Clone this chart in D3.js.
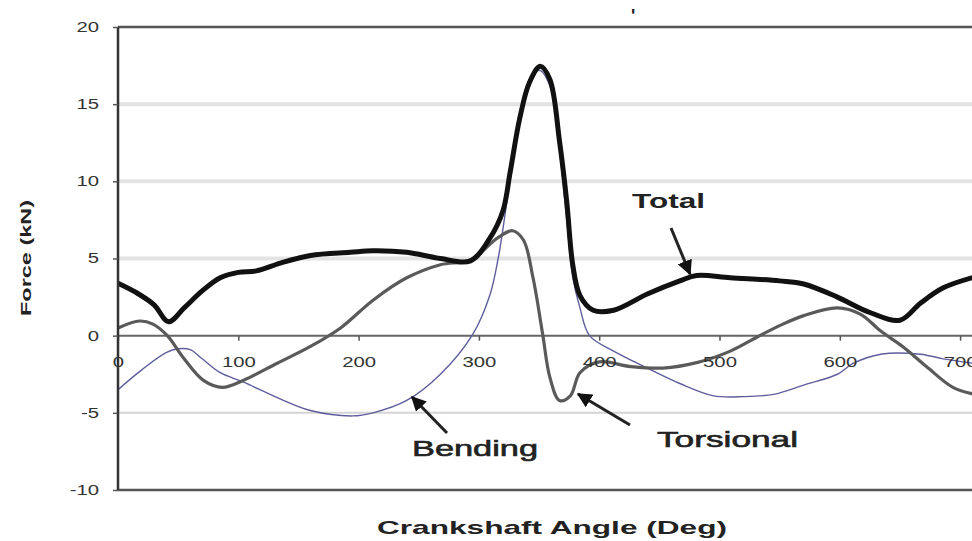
<!DOCTYPE html>
<html><head><meta charset="utf-8">
<script src="https://cdn.jsdelivr.net/npm/d3@7"></script>
<style>
html,body{margin:0;padding:0;background:#fff;}
svg{display:block;font-family:"Liberation Sans",Arial,sans-serif;}
</style></head>
<body>
<svg id="chart" width="972" height="541"></svg>
<script>
// ---------- DATA ----------
const xTicks = [0, 100, 200, 300, 400, 500, 600, 700];
const yTicks = [-10, -5, 0, 5, 10, 15, 20];

const totalAngle = [0, 15, 30, 42, 55, 70, 85, 100, 115, 135, 160, 193, 212, 240, 268, 293, 309, 320, 326, 334, 342, 351, 359, 367, 373, 378, 384, 395, 412, 440, 467, 481, 509, 550, 570, 598, 625, 650, 667, 686, 712];
const totalForce = [3.4, 2.8, 2.0, 0.9, 1.8, 2.9, 3.75, 4.1, 4.2, 4.7, 5.2, 5.4, 5.5, 5.4, 5.0, 4.85, 6.3, 8.1, 10.6, 14.1, 16.4, 17.45, 16.6, 12.6, 8.7, 4.6, 2.6, 1.65, 1.65, 2.7, 3.55, 3.9, 3.75, 3.55, 3.35, 2.5, 1.5, 1.0, 2.1, 3.1, 3.8];

const torsAngle = [0, 18, 29, 41, 54, 71, 87, 104, 132, 160, 185, 212, 240, 268, 293, 315, 328, 337, 345, 353, 359, 367, 376, 384, 400, 426, 453, 481, 509, 531, 550, 570, 598, 617, 634, 653, 672, 694, 712];
const torsForce = [0.5, 0.95, 0.75, 0, -1.4, -2.9, -3.35, -2.9, -1.8, -0.7, 0.5, 2.3, 3.75, 4.6, 4.9, 6.3, 6.8, 6.2, 3.75, 0.1, -2.7, -4.2, -3.9, -2.4, -1.7, -2.0, -2.1, -1.75, -1.0, -0.1, 0.65, 1.3, 1.8, 1.4, 0.3, -0.75, -2.0, -3.35, -3.8];

const bendAngle = [0, 20, 40, 50, 60, 70, 85, 104, 132, 160, 195, 212, 240, 268, 295, 309, 316, 322, 330, 340, 350, 359, 367, 373, 378, 384, 392, 412, 440, 467, 495, 520, 545, 570, 598, 611, 634, 667, 686, 712];
const bendForce = [-3.5, -2.2, -1.1, -0.85, -0.9, -1.5, -2.4, -3.0, -4.0, -4.85, -5.2, -5.0, -4.2, -2.5, 0.1, 2.6, 5.0, 8.0, 12.5, 16.0, 17.2, 16.2, 12.0, 7.5, 3.8, 1.8, 0.0, -1.0, -2.1, -3.1, -3.9, -3.95, -3.8, -3.2, -2.5, -1.8, -1.2, -1.2, -1.5, -1.8];

const seriesLabels = ["Total", "Bending", "Torsional"];
const xTitle = "Crankshaft Angle (Deg)";
const yTitle = "Force (kN)";

// ---------- CHART ----------
const svg = d3.select("#chart");
svg.append("rect").attr("width", 972).attr("height", 541).attr("fill", "#fff");

const pLeft = 118, pTop = 27, pBottom = 490;
const x = d3.scaleLinear().domain([0, 720]).range([pLeft, pLeft + 720 * 1.203]);
const y = d3.scaleLinear().domain([-10, 20]).range([pBottom, pTop]);

function stretch(sel, k) {
  sel.each(function () {
    const w = this.getComputedTextLength();
    this.setAttribute("textLength", w * k);
    this.setAttribute("lengthAdjust", "spacingAndGlyphs");
  });
}

// gridlines
const grid = svg.append("g");
[15, 10, 5].forEach(v => {
  grid.append("line").attr("x1", pLeft).attr("x2", 972).attr("y1", y(v)).attr("y2", y(v))
    .attr("stroke", "#e3e3e3").attr("stroke-width", 4);
});
grid.append("line").attr("x1", pLeft).attr("x2", 972).attr("y1", y(-5)).attr("y2", y(-5))
  .attr("stroke", "#d4d4d4").attr("stroke-width", 2);
// borders
[20, -10].forEach(v => {
  grid.append("line").attr("x1", pLeft).attr("x2", 972).attr("y1", y(v)).attr("y2", y(v))
    .attr("stroke", "#555").attr("stroke-width", 2.5);
});
// zero axis
grid.append("line").attr("x1", pLeft).attr("x2", 972).attr("y1", y(0)).attr("y2", y(0))
  .attr("stroke", "#666").attr("stroke-width", 2);

// clip
svg.append("clipPath").attr("id", "plot").append("rect")
  .attr("x", pLeft).attr("y", pTop - 5).attr("width", 972 - pLeft).attr("height", pBottom - pTop + 10);

const lineGen = d3.line().x(d => x(d[0])).y(d => y(d[1])).curve(d3.curveCatmullRom.alpha(0.5));
const plot = svg.append("g").attr("clip-path", "url(#plot)");

plot.append("path").datum(d3.zip(bendAngle, bendForce)).attr("d", lineGen)
  .attr("fill", "none").attr("stroke", "#5e5e9e").attr("stroke-width", 1.4);
plot.append("path").datum(d3.zip(torsAngle, torsForce)).attr("d", lineGen)
  .attr("fill", "none").attr("stroke", "#5a5a5a").attr("stroke-width", 3.2).attr("stroke-linejoin", "round");
plot.append("path").datum(d3.zip(totalAngle, totalForce)).attr("d", lineGen)
  .attr("fill", "none").attr("stroke", "#111").attr("stroke-width", 5).attr("stroke-linejoin", "round");

// x axis (ticks + labels at zero line)
const xAxis = svg.append("g").attr("transform", `translate(0,${y(0)})`)
  .call(d3.axisBottom(x).tickValues(xTicks).tickSize(5).tickPadding(16).tickFormat(d => String(d)));
xAxis.select(".domain").remove();
xAxis.selectAll("line").attr("stroke", "#555").attr("stroke-width", 1.5);
xAxis.selectAll("text").attr("font-size", 14).attr("fill", "#333")
  .attr("font-family", "Liberation Sans, Arial, sans-serif").call(stretch, 1.45);

// y axis
const yAxis = svg.append("g").attr("transform", `translate(${pLeft},0)`)
  .call(d3.axisLeft(y).tickValues(yTicks).tickSize(5).tickPadding(14).tickFormat(d => String(d)));
yAxis.select(".domain").attr("stroke", "#333").attr("stroke-width", 2.5)
  .attr("d", `M0,${y(20)}V${y(-10)}`);
yAxis.selectAll("line").attr("stroke", "#555").attr("stroke-width", 1.5);
yAxis.selectAll("text").attr("font-size", 14).attr("fill", "#333")
  .attr("font-family", "Liberation Sans, Arial, sans-serif").call(stretch, 1.45);

// arrow marker
svg.append("defs").append("marker").attr("id", "arr")
  .attr("viewBox", "0 0 10 10").attr("refX", 9).attr("refY", 5)
  .attr("markerWidth", 5).attr("markerHeight", 5).attr("orient", "auto")
  .append("path").attr("d", "M0,0L10,5L0,10z").attr("fill", "#111");

function arrow(x1, y1, x2, y2) {
  svg.append("line").attr("x1", x1).attr("y1", y1).attr("x2", x2).attr("y2", y2)
    .attr("stroke", "#222").attr("stroke-width", 3).attr("marker-end", "url(#arr)");
}
arrow(671, 228, 690, 274);
arrow(447, 433, 412, 397);
arrow(630, 425, 578, 394);

// annotation labels
svg.append("text").attr("x", 632).attr("y", 208).text(seriesLabels[0])
  .attr("font-size", 21).attr("font-weight", "bold").attr("fill", "#222")
  .attr("textLength", 73).attr("lengthAdjust", "spacingAndGlyphs");
svg.append("text").attr("x", 412).attr("y", 456).text(seriesLabels[1])
  .attr("font-size", 22).attr("fill", "#222").attr("stroke", "#222").attr("stroke-width", 0.6)
  .attr("textLength", 126).attr("lengthAdjust", "spacingAndGlyphs");
svg.append("text").attr("x", 657).attr("y", 447).text(seriesLabels[2])
  .attr("font-size", 22).attr("fill", "#222").attr("stroke", "#222").attr("stroke-width", 0.6)
  .attr("textLength", 141).attr("lengthAdjust", "spacingAndGlyphs");

// axis titles
svg.append("text").attr("x", 377).attr("y", 534).text(xTitle)
  .attr("font-size", 19).attr("font-weight", "bold").attr("fill", "#222")
  .attr("textLength", 350).attr("lengthAdjust", "spacingAndGlyphs");
svg.append("text").attr("transform", "translate(31,316) rotate(-90)").text(yTitle)
  .attr("font-size", 15).attr("font-weight", "bold").attr("fill", "#222")
  .attr("textLength", 116).attr("lengthAdjust", "spacingAndGlyphs");

// stray mark at top (cropped title remnant)
svg.append("text").attr("x", 631).attr("y", 22).text("'")
  .attr("font-size", 18).attr("font-weight", "bold").attr("fill", "#222");
</script>
</body></html>
